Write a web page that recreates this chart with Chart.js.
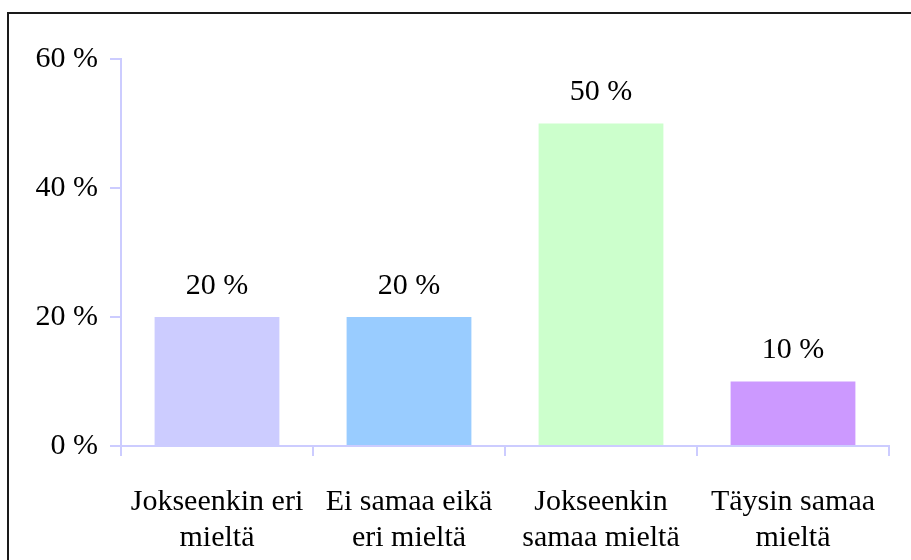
<!DOCTYPE html>
<html>
<head>
<meta charset="utf-8">
<script src="https://cdn.jsdelivr.net/npm/chart.js@4/dist/chart.umd.min.js"></script>
<style>
  html, body { margin: 0; padding: 0; background: #fff; overflow: hidden; }
  #wrap { position: absolute; left: 0; top: 0; width: 911px; height: 560px; }
  #frame { position: absolute; left: 7px; top: 12px; width: 1000px; height: 1000px;
           border-top: 2px solid #1a1a1a; border-left: 2px solid #1a1a1a; pointer-events: none; }
</style>
</head>
<body>
<div id="wrap">
  <canvas id="c" width="911" height="560"></canvas>
  <div id="frame"></div>
</div>
<script>
const categories = [["Jokseenkin eri", "mieltä"], ["Ei samaa eikä", "eri mieltä"], ["Jokseenkin", "samaa mieltä"], ["Täysin samaa", "mieltä"]];
const values = [20, 20, 50, 10];
const barColors = ["#CCCCFF", "#99CCFF", "#CCFFCC", "#CC99FF"];
const yTicks = [0, 20, 40, 60];

const FONT = "'Liberation Serif', 'DejaVu Serif', serif";
const AXIS = "#CCCCFF";
const FS = 30;

const valueLabels = {
  id: 'valueLabels',
  afterDatasetsDraw(chart) {
    const ctx = chart.ctx;
    const meta = chart.getDatasetMeta(0);
    ctx.save();
    ctx.font = FS + "px " + FONT;
    ctx.fillStyle = "#000";
    ctx.textAlign = "center";
    ctx.textBaseline = "middle";
    meta.data.forEach((bar, i) => {
      ctx.fillText(values[i] + " %", bar.x, bar.y - 31);
    });
    ctx.restore();
  }
};

new Chart(document.getElementById('c'), {
  type: 'bar',
  data: {
    labels: categories,
    datasets: [{
      data: values,
      backgroundColor: barColors,
      borderWidth: 0,
      categoryPercentage: 0.65,
      barPercentage: 1.0
    }]
  },
  options: {
    responsive: false,
    animation: false,
    layout: { padding: { top: 59, right: 22, left: 0, bottom: 0 } },
    plugins: { legend: { display: false }, tooltip: { enabled: false } },
    scales: {
      x: {
        grid: { display: true, drawOnChartArea: false, offset: true, color: AXIS, lineWidth: 2, tickLength: 10 },
        border: { display: true, color: AXIS, width: 2 },
        ticks: { color: "#000", font: { family: FONT, size: FS, lineHeight: 36 / FS }, padding: 28, maxRotation: 0, autoSkip: false },
        afterFit(scale) { scale.height = 114; }
      },
      y: {
        min: 0, max: 60,
        afterBuildTicks(scale) { scale.ticks = yTicks.map(v => ({ value: v })); },
        grid: { display: true, drawOnChartArea: false, color: AXIS, lineWidth: 2, tickLength: 11 },
        border: { display: true, color: AXIS, width: 2 },
        ticks: { color: "#000", font: { family: FONT, size: FS }, padding: 12, callback: v => v + " %" },
        afterFit(scale) { scale.width = 121; }
      }
    }
  },
  plugins: [valueLabels]
});
</script>
</body>
</html>
